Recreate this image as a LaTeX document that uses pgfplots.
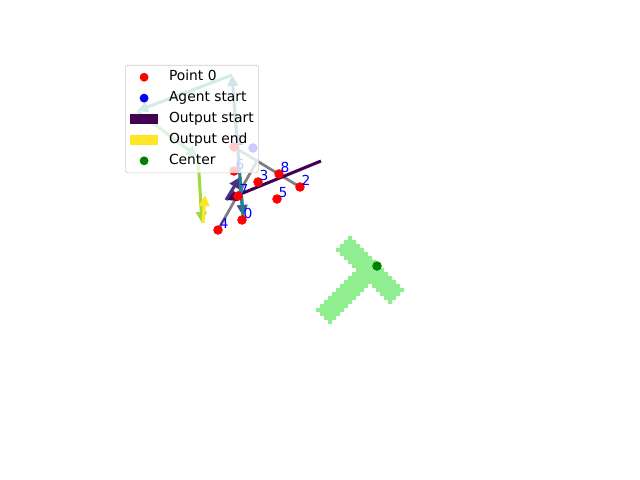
\documentclass[border=0pt]{standalone}
\usepackage{fontspec}
\setmainfont{DejaVu Sans}
\usepackage{pgfplots}
\pgfplotsset{compat=1.18}
\usetikzlibrary{arrows.meta}
\definecolor{vA}{HTML}{440154}
\definecolor{vB}{HTML}{46327E}
\definecolor{vC}{HTML}{365C8D}
\definecolor{vD}{HTML}{277F8E}
\definecolor{vE}{HTML}{1FA187}
\definecolor{vF}{HTML}{4AC16D}
\definecolor{vG}{HTML}{A0DA39}
\definecolor{vH}{HTML}{FDE725}
\definecolor{tgreen}{HTML}{90EE90}
\definecolor{mgreen}{HTML}{008000}
\definecolor{lgray}{HTML}{CCCCCC}
\definecolor{mgray}{HTML}{808080}
\begin{document}
\fontsize{10}{12}\selectfont
\begin{tikzpicture}
\begin{axis}[
  width=6.4in, height=4.8in, scale only axis,
  xmin=0, xmax=640, ymin=0, ymax=480, y dir=reverse,
  axis line style={draw=none}, ticks=none, clip=false,
  legend cell align=left,
  legend style={at={(axis cs:125,65)}, anchor=north west,
    fill=white, fill opacity=0.8, draw opacity=1, text opacity=1,
    draw=lgray, rounded corners=2pt,
    font=\fontsize{10}{12}\selectfont,
    inner xsep=3.6pt, inner ysep=4pt, row sep=5.8pt, column sep=8pt,
    nodes={inner sep=0pt, text height=7.3pt, text depth=2pt}},
]
\addlegendimage{legend image code/.code={\path[draw=none,fill=none] (0pt,0pt) rectangle (20pt,0.1pt); \path[draw=none, fill=red, fill opacity=1] (10pt,0pt) circle (3.2pt);}}
\addlegendimage{legend image code/.code={\path[draw=none,fill=none] (0pt,0pt) rectangle (20pt,0.1pt); \path[draw=none, fill=blue, fill opacity=1] (10pt,0pt) circle (3.2pt);}}
\addlegendimage{legend image code/.code={\path[draw=none, sharp corners, fill=vA, fill opacity=1] (0pt,-3.4pt) rectangle (20pt,3.4pt);}}
\addlegendimage{legend image code/.code={\path[draw=none, sharp corners, fill=vH, fill opacity=1] (0pt,-3.4pt) rectangle (20pt,3.4pt);}}
\addlegendimage{legend image code/.code={\path[draw=none,fill=none] (0pt,0pt) rectangle (20pt,0.1pt); \path[draw=none, fill=mgreen, fill opacity=1] (10pt,0pt) circle (3.2pt);}}
\legend{Point 0, Agent start, Output start, Output end, Center}

% T-shaped target region (rasterised): bar
\addplot[forget plot, fill=tgreen, draw=none] coordinates {
(348,236) (352,236) (352,240) (356,240) (356,244) (360,244) (360,248) (364,248)
(364,252) (368,252) (368,256) (372,256) (372,260) (376,260) (376,264) (380,264)
(380,268) (384,268) (384,272) (388,272) (388,276) (392,276) (392,280) (396,280)
(396,284) (400,284) (400,288) (404,288) (404,292) (400,292) (400,296) (396,296)
(396,300) (392,300) (392,304) (388,304) (388,300) (384,300) (384,296) (380,296)
(380,292) (376,292) (376,288) (372,288) (372,284) (368,284) (368,280) (364,280)
(364,276) (360,276) (360,272) (356,272) (356,268) (352,268) (352,264) (348,264)
(348,260) (344,260) (344,256) (340,256) (340,252) (336,252) (336,248) (340,248)
(340,244) (344,244) (344,240) (348,240)} -- cycle;
% stem
\addplot[forget plot, fill=tgreen, draw=none] coordinates {
(352,272) (360,272) (360,276) (364,276) (364,280) (368,280) (368,288) (364,288)
(364,292) (360,292) (360,296) (356,296) (356,300) (352,300) (352,304) (348,304)
(348,308) (344,308) (344,312) (340,312) (340,316) (336,316) (336,320) (332,320)
(332,324) (328,324) (328,320) (324,320) (324,316) (320,316) (320,312) (316,312)
(316,308) (320,308) (320,304) (324,304) (324,300) (328,300) (328,296) (332,296)
(332,292) (336,292) (336,288) (340,288) (340,284) (344,284) (344,280) (348,280)
(348,276) (352,276)} -- cycle;

% keypoints
\addplot[forget plot, only marks, mark=*, mark size=3.2pt, red] table {
x y
242 220
234 147
300 187
258 182
218 230
277 199
234 171
238 196
279 174
};
% agent start
\addplot[forget plot, only marks, mark=*, mark size=3.2pt, blue] coordinates {(253,148)};

% T skeleton
\addplot[forget plot, mgray, line width=2pt] coordinates {(234,147) (300,187)};
\addplot[forget plot, mgray, line width=2pt] coordinates {(257,161) (218,230)};

% output trajectory
\tikzset{arr/.style={line width=2.2pt, -{Triangle[length=8pt,width=7.5pt]}}}
\addplot[forget plot, vA, arr] coordinates {(321,161) (226,200)};
\addplot[forget plot, vB, arr] coordinates {(226,200) (240,177)};
\addplot[forget plot, vC, arr] coordinates {(240,177) (243,216)};
\addplot[forget plot, vD, arr] coordinates {(243,216) (232,75)};
\addplot[forget plot, vE, arr] coordinates {(232,75) (137,111)};
\addplot[forget plot, vF, arr] coordinates {(137,111) (198,157)};
\addplot[forget plot, vG, arr] coordinates {(198,157) (202,223)};
\addplot[forget plot, vH, arr] coordinates {(203,223) (205,195)};

% center
\addplot[forget plot, only marks, mark=*, mark size=3.2pt, mgreen] coordinates {(377,266)};

% labels
\addplot[forget plot, only marks, mark=none, nodes near coords, point meta=explicit symbolic,
  nodes near coords style={anchor=base west, text=blue, xshift=1pt, yshift=1pt, inner sep=0pt,
  font=\fontsize{10}{12}\selectfont}] table[meta=lab] {
x y lab
242 220 0
234 147 1
300 187 2
258 182 3
218 230 4
277 199 5
234 171 6
238 196 7
279 174 8
};
\end{axis}
\end{tikzpicture}
\end{document}
